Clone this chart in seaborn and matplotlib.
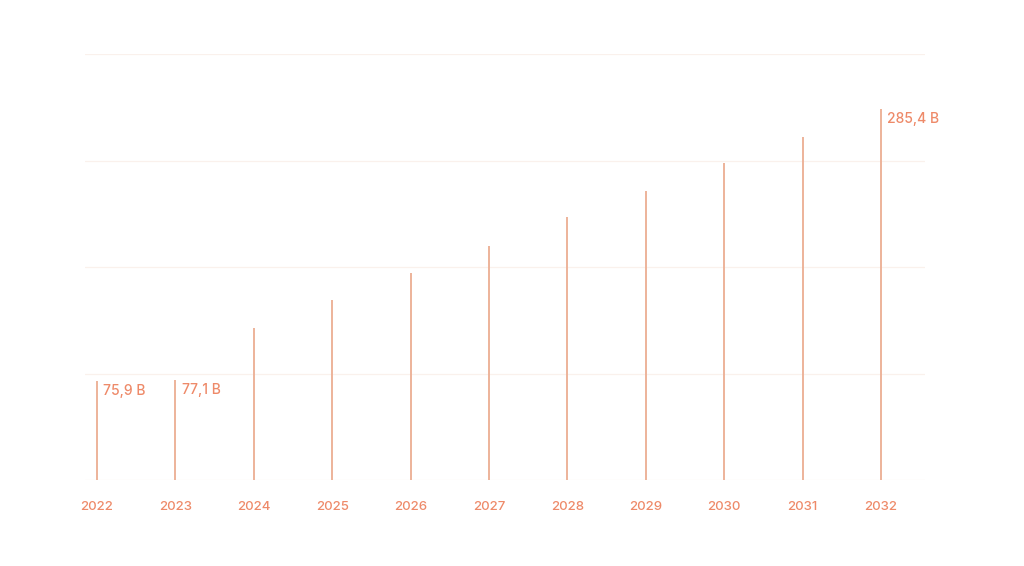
import matplotlib
matplotlib.use("Agg")
import matplotlib.pyplot as plt
import seaborn as sns
import pandas as pd

years = ["2022", "2023", "2024", "2025", "2026", "2027", "2028", "2029", "2030", "2031", "2032"]
values = [75.9, 77.1, 117.2, 138.3, 159.4, 180.0, 202.6, 222.9, 243.8, 264.3, 285.4]
labels = {0: "75,9 B", 1: "77,1 B", 10: "285,4 B"}
grid_ticks = [0, 82, 164, 246, 328]

sns.set_theme(style="white")
plt.rcParams["font.family"] = ["Inter", "DejaVu Sans"]

text_color = "#EE8A69"
bar_color = "#EDB39A"
grid_color = "#FAF1EC"

df = pd.DataFrame({"year": years, "value": values})

fig = plt.figure(figsize=(10.24, 5.66), dpi=100)
ax = fig.add_axes([85 / 1024, (566 - 480) / 566, 840 / 1024, 426 / 566])

sns.barplot(data=df, x="year", y="value", ax=ax, color=bar_color, width=0.001,
            saturation=1, edgecolor=bar_color, linewidth=1.4)

ax.set_ylim(0, 328)
ax.set_xlim(-0.153, 10.56)
ax.set_yticks(grid_ticks)
ax.yaxis.grid(True, color=grid_color, linewidth=0.9)
ax.set_axisbelow(True)
ax.set_yticklabels([])
ax.tick_params(axis="y", length=0)
ax.tick_params(axis="x", length=0, pad=15, labelsize=9.5, labelcolor=text_color)
for lab in ax.get_xticklabels():
    lab.set_fontweight("medium")
ax.set_xlabel("")
ax.set_ylabel("")
for s in ax.spines.values():
    s.set_visible(False)

for i, t in labels.items():
    ax.annotate(t, xy=(i, values[i]), xytext=(4.5, -2), textcoords="offset points",
                ha="left", va="top", fontsize=10, fontweight="medium", color=text_color)

fig.savefig("out.png", dpi=100, facecolor="white")
